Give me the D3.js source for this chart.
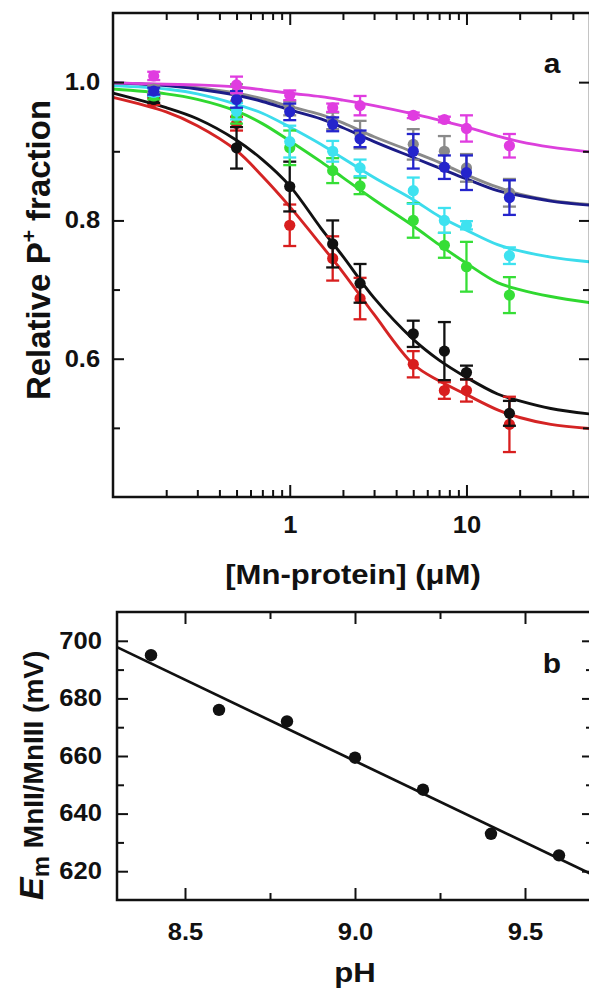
<!DOCTYPE html>
<html>
<head>
<meta charset="utf-8">
<script src="https://cdn.jsdelivr.net/npm/d3@7"></script>
<style>
  body { margin: 0; background: #fff; }
  svg { display: block; }
  text { font-family: "Liberation Sans", Arial, sans-serif; font-weight: bold; fill: #111; }
</style>
</head>
<body>
<svg id="fig" width="589" height="988"></svg>
<script>
// ---------- Panel a: titration data ----------
const concUM = [0.17, 0.5, 1, 1.75, 2.5, 5, 7.5, 10, 17.5];
const fitConcUM = [0.1, 0.2, 0.3, 0.5, 0.7, 1, 1.5, 2, 3, 5, 7, 10, 15, 20, 30, 50];

const magentaVals = [1.009, 0.996, 0.981, 0.963, 0.966, 0.952, 0.946, 0.933, 0.908];
const magentaErr  = [0.006, 0.012, 0.007, 0.006, 0.014, 0.004, 0.004, 0.019, 0.017];
const magentaFit  = [0.999, 0.997, 0.996, 0.993, 0.989, 0.984, 0.979, 0.974, 0.966, 0.954, 0.945, 0.935, 0.922, 0.914, 0.906, 0.899];

const grayVals = [0.990, 0.985, 0.962, 0.944, 0.924, 0.910, 0.900, 0.876, 0.840];
const grayErr  = [0.005, 0.012, 0.010, 0.012, 0.020, 0.022, 0.022, 0.020, 0.020];
const grayFit  = [0.999, 0.996, 0.992, 0.984, 0.976, 0.965, 0.953, 0.941, 0.921, 0.899, 0.884, 0.866, 0.848, 0.838, 0.829, 0.823];

const blueVals = [0.987, 0.975, 0.957, 0.939, 0.918, 0.900, 0.877, 0.869, 0.833];
const blueErr  = [0.005, 0.012, 0.012, 0.010, 0.012, 0.025, 0.017, 0.025, 0.025];
const blueFit  = [0.999, 0.995, 0.990, 0.981, 0.972, 0.960, 0.947, 0.934, 0.914, 0.891, 0.876, 0.860, 0.843, 0.836, 0.828, 0.822];

const cyanVals = [0.985, 0.958, 0.914, 0.900, 0.876, 0.843, 0.800, 0.793, 0.749];
const cyanErr  = [0.005, 0.012, 0.023, 0.015, 0.012, 0.019, 0.018, 0.006, 0.012];
const cyanFit  = [0.995, 0.990, 0.983, 0.968, 0.955, 0.935, 0.910, 0.890, 0.862, 0.830, 0.806, 0.786, 0.765, 0.756, 0.747, 0.740];

const greenVals = [0.980, 0.950, 0.905, 0.872, 0.850, 0.800, 0.764, 0.733, 0.692];
const greenErr  = [0.005, 0.010, 0.025, 0.018, 0.012, 0.025, 0.018, 0.036, 0.026];
const greenFit  = [0.990, 0.983, 0.975, 0.958, 0.940, 0.915, 0.885, 0.862, 0.830, 0.792, 0.765, 0.738, 0.710, 0.700, 0.690, 0.681];

const blackVals = [0.975, 0.905, 0.849, 0.766, 0.709, 0.636, 0.611, 0.580, 0.521];
const blackErr  = [0.005, 0.030, 0.036, 0.034, 0.028, 0.019, 0.042, 0.010, 0.018];
const blackFit  = [0.984, 0.963, 0.947, 0.916, 0.888, 0.850, 0.789, 0.748, 0.688, 0.628, 0.598, 0.573, 0.549, 0.539, 0.528, 0.520];

const redVals = [0.972, 0.940, 0.793, 0.745, 0.687, 0.592, 0.554, 0.554, 0.505];
const redErr  = [0.005, 0.010, 0.030, 0.032, 0.030, 0.019, 0.012, 0.016, 0.040];
const redFit  = [0.978, 0.957, 0.937, 0.901, 0.864, 0.820, 0.765, 0.725, 0.664, 0.592, 0.568, 0.548, 0.526, 0.515, 0.505, 0.499];

const yTicksA = [0.6, 0.8, 1.0];
const yMinorA = [0.5, 0.7, 0.9];
const xTicksA = [1, 10];
const xMinorA = [0.2, 0.3, 0.4, 0.5, 0.6, 0.7, 0.8, 0.9, 2, 3, 4, 5, 6, 7, 8, 9, 20, 30, 40];

// ---------- Panel b: midpoint potential vs pH ----------
const pH = [8.4, 8.6, 8.8, 9.0, 9.2, 9.4, 9.6];
const emMv = [695.0, 676.0, 672.0, 659.4, 648.3, 633.0, 625.5];
const fitPH = [8.3, 9.7];
const fitEm = [697.8, 618.7];

const xTicksB = [8.5, 9.0, 9.5];
const xMinorB = [8.75, 9.25];
const yTicksB = [620, 640, 660, 680, 700];
const yMinorB = [630, 650, 670, 690];

// ---------- drawing ----------
const svg = d3.select("#fig");
const SX = 1.11;           // horizontal text stretch
const tickFont = 23;

const A = { left: 113, right: 590, top: 13, bottom: 497 };
const xA = d3.scaleLog().domain([0.1, 50]).range([A.left, A.right]);
const yA = d3.scaleLinear().domain([0.4, 1.1]).range([A.bottom, A.top]);

const B = { left: 117, right: 593, top: 612, bottom: 900 };
const xB = d3.scaleLinear().domain([8.3, 9.7]).range([B.left, B.right]);
const yB = d3.scaleLinear().domain([610, 710]).range([B.bottom, B.top]);

function styleAxis(g, labelled) {
  g.select(".domain").remove();
  g.selectAll(".tick line").attr("stroke", "#111").attr("stroke-width", 2);
  if (labelled) {
    g.selectAll(".tick text")
      .attr("font-size", tickFont)
      .attr("transform", `scale(${SX},1)`)
      .style("fill", "#111");
  } else {
    g.selectAll(".tick text").remove();
  }
}

function frameAxes(x, y, box, xMaj, xMin, yMaj, yMin, xFmt, yFmt, xPad, yPad) {
  const g = svg.append("g");
  g.append("g").attr("transform", `translate(0,${box.bottom})`)
    .call(d3.axisBottom(x).tickValues(xMaj).tickSize(-12).tickPadding(xPad).tickFormat(xFmt))
    .call(s => styleAxis(s, true));
  g.append("g").attr("transform", `translate(0,${box.bottom})`)
    .call(d3.axisBottom(x).tickValues(xMin).tickSize(-7))
    .call(s => styleAxis(s, false));
  g.append("g").attr("transform", `translate(0,${box.top})`)
    .call(d3.axisTop(x).tickValues(xMaj).tickSize(-12))
    .call(s => styleAxis(s, false));
  g.append("g").attr("transform", `translate(0,${box.top})`)
    .call(d3.axisTop(x).tickValues(xMin).tickSize(-7))
    .call(s => styleAxis(s, false));
  g.append("g").attr("transform", `translate(${box.left},0)`)
    .call(d3.axisLeft(y).tickValues(yMaj).tickSize(-11).tickPadding(yPad).tickFormat(yFmt))
    .call(s => styleAxis(s, true));
  g.append("g").attr("transform", `translate(${box.left},0)`)
    .call(d3.axisLeft(y).tickValues(yMin).tickSize(-7))
    .call(s => styleAxis(s, false));
  g.append("g").attr("transform", `translate(${box.right},0)`)
    .call(d3.axisRight(y).tickValues(yMaj).tickSize(-11))
    .call(s => styleAxis(s, false));
  g.append("g").attr("transform", `translate(${box.right},0)`)
    .call(d3.axisRight(y).tickValues(yMin).tickSize(-7))
    .call(s => styleAxis(s, false));
  g.append("rect")
    .attr("x", box.left).attr("y", box.top)
    .attr("width", box.right - box.left).attr("height", box.bottom - box.top)
    .attr("fill", "none").attr("stroke", "#111").attr("stroke-width", 2.5);
}

// ---- panel a ----
const seriesA = [
  { vals: redVals,     err: redErr,     fit: redFit,     pt: "#d81e1e", ln: "#d42424" },
  { vals: blackVals,   err: blackErr,   fit: blackFit,   pt: "#111111", ln: "#111111" },
  { vals: greenVals,   err: greenErr,   fit: greenFit,   pt: "#36de36", ln: "#30d830" },
  { vals: cyanVals,    err: cyanErr,    fit: cyanFit,    pt: "#3ee2f0", ln: "#3cdcec" },
  { vals: grayVals,    err: grayErr,    fit: grayFit,    pt: "#8a8a8a", ln: "#8a8a8a" },
  { vals: blueVals,    err: blueErr,    fit: blueFit,    pt: "#2424cc", ln: "#1c1c88" },
  { vals: magentaVals, err: magentaErr, fit: magentaFit, pt: "#e03ce0", ln: "#dc40dc" }
];

const plotA = svg.append("g");
const lineA = d3.line().x(d => xA(d[0])).y(d => yA(d[1])).curve(d3.curveCatmullRom.alpha(0.5));

seriesA.forEach(s => {
  plotA.append("path")
    .attr("d", lineA(fitConcUM.map((c, i) => [c, s.fit[i]])))
    .attr("fill", "none").attr("stroke", s.ln).attr("stroke-width", 2.9);
});

seriesA.forEach(s => {
  const g = plotA.append("g").attr("stroke", s.pt).attr("fill", s.pt);
  concUM.forEach((c, i) => {
    const cx = xA(c), v = s.vals[i], e = s.err[i];
    const y0 = yA(v - e), y1 = yA(v + e);
    g.append("line").attr("x1", cx).attr("x2", cx).attr("y1", y0).attr("y2", y1).attr("stroke-width", 2.3);
    [y0, y1].forEach(yy => g.append("line")
      .attr("x1", cx - 6.5).attr("x2", cx + 6.5).attr("y1", yy).attr("y2", yy).attr("stroke-width", 2.3));
    g.append("circle").attr("cx", cx).attr("cy", yA(v)).attr("r", 5.6).attr("stroke", "none");
  });
});

frameAxes(xA, yA, A, xTicksA, xMinorA, yTicksA, yMinorA, d3.format("d"), d3.format(".1f"), 20, 11.6);

svg.append("text")
  .attr("transform", `translate(552,73) scale(${SX},1)`)
  .attr("text-anchor", "middle").attr("font-size", 27).text("a");

svg.append("text")
  .attr("transform", `translate(353,584) scale(${SX},1)`)
  .attr("text-anchor", "middle").attr("font-size", 28)
  .text("[Mn-protein] (\u03BCM)");

const yTitleA = svg.append("text")
  .attr("transform", "translate(50,250) rotate(-90)")
  .attr("text-anchor", "middle").attr("font-size", 33);
yTitleA.append("tspan").text("Relative P");
yTitleA.append("tspan").attr("font-size", 21).attr("dy", -14).text("+");
yTitleA.append("tspan").attr("dy", 14).text(" fraction");

// ---- panel b ----
const plotB = svg.append("g");
plotB.append("path")
  .attr("d", d3.line().x(d => xB(d[0])).y(d => yB(d[1]))(fitPH.map((p, i) => [p, fitEm[i]])))
  .attr("fill", "none").attr("stroke", "#111").attr("stroke-width", 2.7);
plotB.selectAll("circle").data(pH).join("circle")
  .attr("cx", d => xB(d)).attr("cy", (d, i) => yB(emMv[i])).attr("r", 6.2).attr("fill", "#111");

frameAxes(xB, yB, B, xTicksB, xMinorB, yTicksB, yMinorB, d3.format(".1f"), d3.format("d"), 23.4, 13.6);

svg.append("text")
  .attr("transform", `translate(552,673) scale(${SX},1)`)
  .attr("text-anchor", "middle").attr("font-size", 27).text("b");

svg.append("text")
  .attr("transform", `translate(355,982) scale(${SX},1)`)
  .attr("text-anchor", "middle").attr("font-size", 28).text("pH");

const yTitleB = svg.append("text")
  .attr("transform", "translate(43,900) rotate(-90)")
  .attr("text-anchor", "start").attr("font-size", 28);
yTitleB.append("tspan").attr("font-style", "italic").attr("font-size", 34).text("E");
yTitleB.append("tspan").attr("font-size", 24).attr("dy", 6).text("m");
yTitleB.append("tspan").attr("dy", -6).text(" MnII/MnIII (mV)");
</script>
</body>
</html>
